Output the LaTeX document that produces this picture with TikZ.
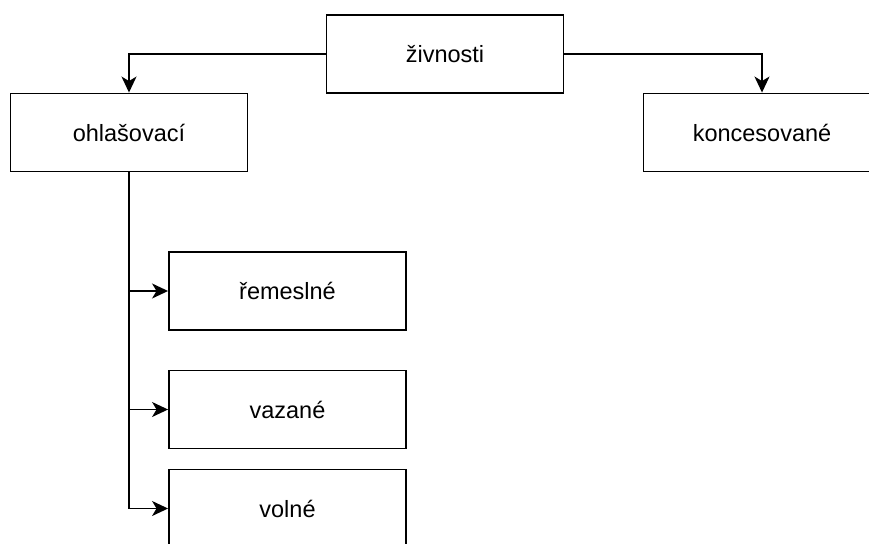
\documentclass[tikz,border=0pt]{standalone}
\usepackage{fontspec}
\setmainfont{Liberation Sans}
\usetikzlibrary{arrows.meta}
\begin{document}
\begin{tikzpicture}[x=1pt,y=-1pt,
  box/.style={draw=black,line width=1.9pt,fill=white,rectangle,inner sep=0pt,
    minimum width=237pt,minimum height=78pt,font=\fontsize{23.5}{28}\selectfont},
  conn/.style={draw=black,line width=1.6pt,-{Stealth[length=16pt,width=15pt,inset=4.5pt]}}]
\useasboundingbox (0,0) rectangle (869,543);
\clip (0,0) rectangle (869,543);
\fill[white] (0,0) rectangle (869,543);
\node[box] (ziv) at (445,54) {živnosti};
\node[box] (ohl) at (129,132.5) {ohlašovací};
\node[box] (kon) at (762,132.5) {koncesované};
\node[box] (rem) at (287.5,291) {řemeslné};
\node[box] (vaz) at (287.5,409.5) {vazané};
\node[box] (vol) at (287.5,508.5) {volné};
\draw[conn] (ziv.west) -| (ohl.north);
\draw[conn] (ziv.east) -| (kon.north);
\draw[conn] (ohl.south) |- (rem.west);
\draw[conn] (ohl.south) |- (vaz.west);
\draw[conn] (ohl.south) |- (vol.west);
\end{tikzpicture}
\end{document}
